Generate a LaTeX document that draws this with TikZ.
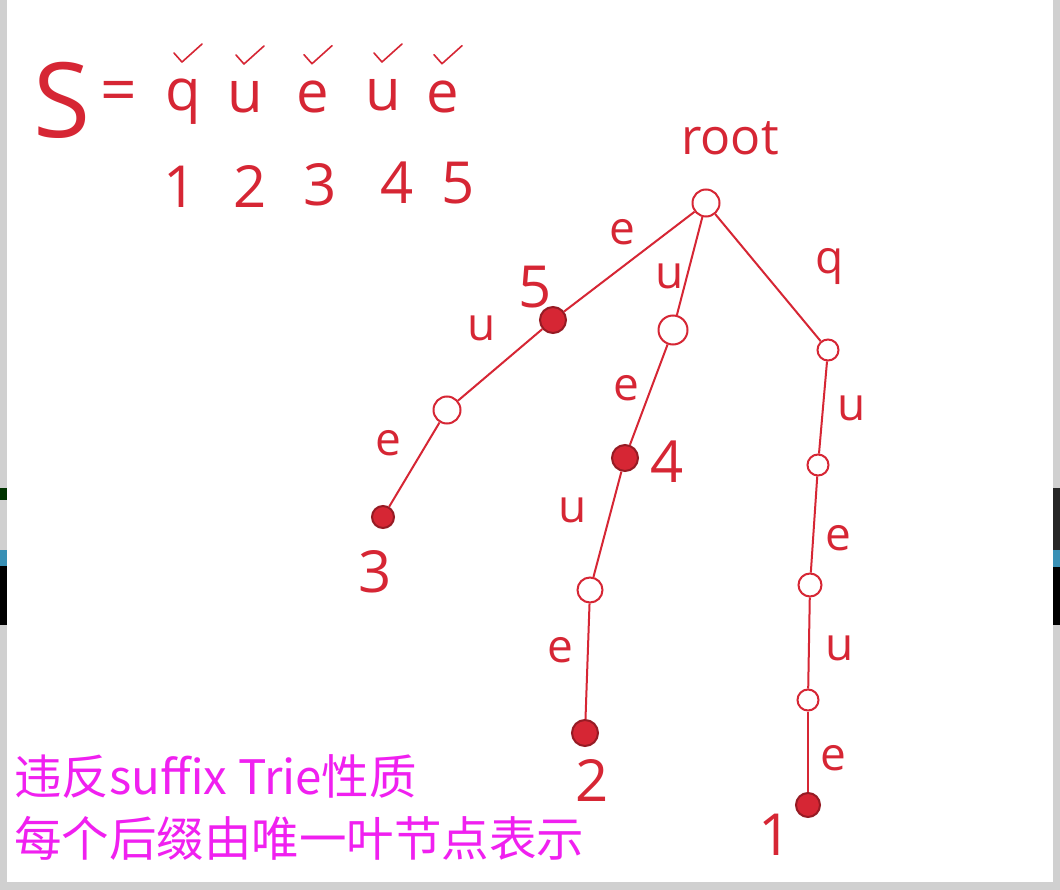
\documentclass[tikz,border=0pt]{standalone}
\usepackage{fontspec}
\setmainfont{Open Sans}
\newfontfamily\cjkfont{Noto Sans CJK SC}
\usetikzlibrary{positioning}
\definecolor{inkRed}{RGB}{214,38,52}
\definecolor{noteMagenta}{RGB}{240,32,240}
\definecolor{frameGrey}{RGB}{208,208,208}
\tikzset{
    hollow/.style={circle, draw=inkRed, line width=2pt, minimum size=27pt, inner sep=0pt},
    hollowsmall/.style={hollow, minimum size=21pt},
    leaf/.style={circle, draw=inkRed!70!black, fill=inkRed, line width=2pt, minimum size=26pt, inner sep=0pt},
    % Text
    lbl/.style={text=inkRed, font=\fontsize{46}{46}\selectfont, inner sep=0pt},
    num/.style={text=inkRed, font=\fontsize{58}{58}\selectfont, inner sep=0pt},
    note/.style={text=noteMagenta, font=\cjkfont\fontsize{47.5}{50}\selectfont, anchor=west, inner sep=0pt},
    % Lines
    branch/.style={inkRed, line width=2pt},
    tick/.style={inkRed, line width=1.6pt, line cap=round, line join=round}
}
\begin{document}
\begin{tikzpicture}[x=1pt, y=-1pt]
\useasboundingbox (0,0) rectangle (1060,890);
% whiteboard and window edges
\fill[frameGrey] (0,0) rectangle (1060,890);
\fill[white] (7,0) rectangle (1053,882);
\fill[black!80!green] (0,488) rectangle (7,500);
\fill[cyan!70!black] (0,550) rectangle (7,566);
\fill[black] (0,566) rectangle (7,625);
\fill[black!85] (1053,488) rectangle (1060,550);
\fill[cyan!70!black] (1053,550) rectangle (1060,567);
\fill[black] (1053,567) rectangle (1060,625);

% the string
\node[text=inkRed, font=\fontsize{104}{104}\selectfont, inner sep=0pt] (S) at (62,100) {S};
\node[num, font=\fontsize{64}{64}\selectfont] (eq) at (119,97) {=};
\node[num] (c1) at (183,102) {q};
\node[num] (c2) at (245,97) {u};
\node[num] (c3) at (313,97) {e};
\node[num] (c4) at (383,95) {u};
\node[num] (c5) at (443,97) {e};
\foreach \c in {c1,c2,c3,c4,c5}
    \draw[tick] ([shift={(-9,-26)}]\c.north) -- ++(8,9) -- ++(20,-18);
\node[num] (p1) at (180,187) {1};
\node[num] (p2) at (250,187) {2};
\node[num] (p3) at (320,185) {3};
\node[num] (p4) at (397,183) {4};
\node[num] (p5) at (458,183) {5};

% the trie
\node[lbl, font=\fontsize{50}{50}\selectfont] (rootlabel) at (730,138) {root};
\node[hollow] (root) at (706,203) {};

\node[leaf] (nE) at (553,320) {};
\node[hollow] (nEU) at (447,410) {};
\node[leaf, minimum size=22pt] (nEUE) at (383,517) {};

\node[hollow, minimum size=29pt] (nU) at (673,330) {};
\node[leaf] (nUE) at (625,458) {};
\node[hollow, minimum size=25pt] (nUEU) at (590,590) {};
\node[leaf] (nUEUE) at (585,733) {};

\node[hollowsmall] (nQ) at (828,350) {};
\node[hollowsmall] (nQU) at (818,465) {};
\node[hollowsmall, minimum size=23pt] (nQUE) at (810,585) {};
\node[hollowsmall] (nQUEU) at (808,700) {};
\node[leaf, minimum size=24pt] (nQUEUE) at (808,805) {};

\draw[branch] (root) -- (nE);
\draw[branch] (nE) -- (nEU);
\draw[branch] (nEU) -- (nEUE);
\draw[branch] (root) -- (nU);
\draw[branch] (nU) -- (nUE);
\draw[branch] (nUE) -- (nUEU);
\draw[branch] (nUEU) -- (nUEUE);
\draw[branch] (root) -- (nQ);
\draw[branch] (nQ) -- (nQU);
\draw[branch] (nQU) -- (nQUE);
\draw[branch] (nQUE) -- (nQUEU);
\draw[branch] (nQUEU) -- (nQUEUE);

% edge letters
\node[lbl] (lE) at (622,232) {e};
\node[lbl] (lEU) at (482,328) {u};
\node[lbl] (lEUE) at (388,443) {e};
\node[lbl] (lU) at (670,276) {u};
\node[lbl] (lUE) at (626,388) {e};
\node[lbl] (lUEU) at (573,510) {u};
\node[lbl] (lUEUE) at (560,650) {e};
\node[lbl] (lQ) at (830,266) {q};
\node[lbl] (lQU) at (852,408) {u};
\node[lbl] (lQUE) at (838,538) {e};
\node[lbl] (lQUEU) at (840,648) {u};
\node[lbl] (lQUEUE) at (833,758) {e};

% suffix numbers at leaves
\node[num] (s5) at (535,287) {5};
\node[num] (s3) at (375,572) {3};
\node[num] (s4) at (667,462) {4};
\node[num] (s2) at (592,780) {2};
\node[num] (s1) at (775,835) {1};

% note
\node[note] (note1) at (14,777) {违反suffix Trie性质};
\node[note] (note2) at (14,838) {每个后缀由唯一叶节点表示};
\end{tikzpicture}
\end{document}
